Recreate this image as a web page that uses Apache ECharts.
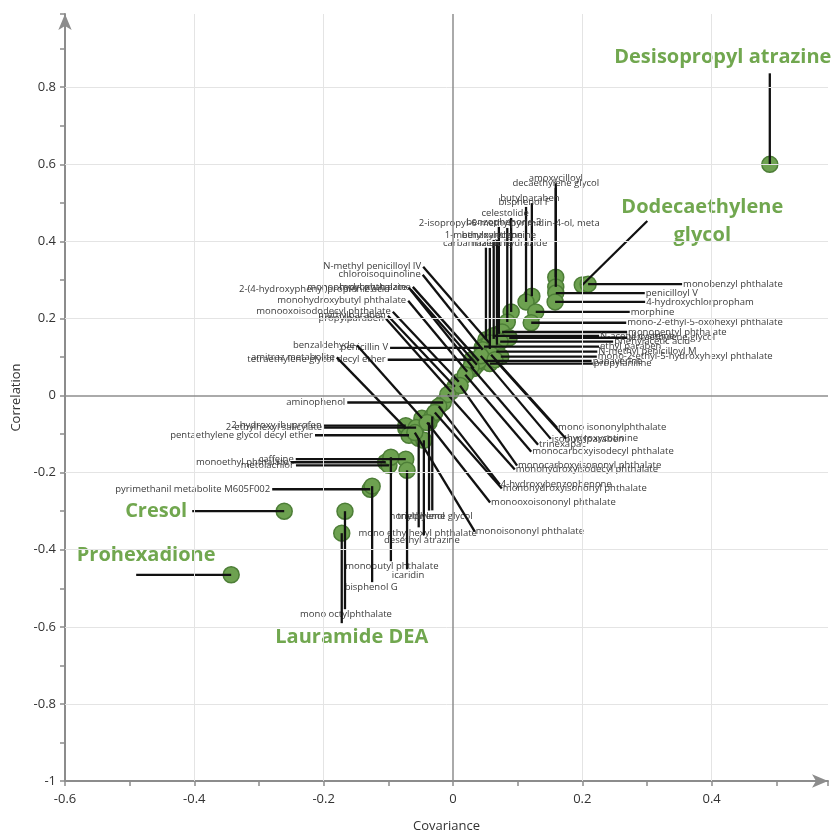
<!DOCTYPE html>
<html><head><meta charset="utf-8">
<script src="https://cdn.jsdelivr.net/npm/echarts@6/dist/echarts.min.js"></script>
<style>html,body{margin:0;padding:0;background:#fff}#c{width:839px;height:838px}</style>
</head><body><div id="c"></div>
<script>
const names = [
 'Desisopropyl atrazine','Dodecaethylene glycol','monobenzyl phthalate','amoxycilloyl','decaethylene glycol',
 'penicilloyl V','4-hydroxychlorpropham','butylparaben','bisphenol F','morphine',
 'mono-2-ethyl-5-oxohexyl phthalate','celestolide','2-isopropyl-6-methylpyrimidin-4-ol, meta','benzophenone-3','1-methylxanthine',
 'benzoylecgonine','carbamazepine','maleic hydrazide','monopentyl phthalate','N-acetyl cysteine',
 'tetraethylene glycol','phenylacetic acid','ethyl paraben','N-methyl penicilloyl M','mono-2-ethyl-5-hydroxyhexyl phthalate',
 'papaverine','propylaniline','penicillin V','tetraethylene glycol decyl ether','amitraz metabolite',
 'benzaldehyde','N-methyl penicilloyl IV','chloroisoquinoline','2-(4-hydroxyphenyl)propionic acid','monopropyl phthalate',
 'hydroxyatrazine','monohydroxybutyl phthalate','monooxoisododecyl phthalate','methylparaben','propylparaben',
 'aminophenol','2-hydroxy ibuprofen','2-ethylhexyl salicylate','pentaethylene glycol decyl ether','caffeine',
 'monoethyl phthalate','metolachlor','pyrimethanil metabolite M605F002','Cresol','Prohexadione',
 'mono ethylhexyl phthalate','desethyl atrazine','nonylphenol','triethylene glycol','monobutyl phthalate',
 'icaridin','bisphenol G','mono octylphthalate','Lauramide DEA','mono isononylphthalate',
 'isobutylparaben','hydroxycotinine','trinexapac','monocarboxyisodecyl phthalate','monocarboxyisononyl phthalate',
 'monohydroxyisodecyl phthalate','4-hydroxybenzophenone','monohydroxyisononyl phthalate','monooxoisononyl phthalate','monoisononyl phthalate'
];
const covariance = [
 0.490,0.200,0.209,0.159,0.159,
 0.159,0.158,0.122,0.113,0.128,
 0.121,0.090,0.084,0.071,0.063,
 0.068,0.051,0.057,0.076,0.062,
 0.087,0.073,0.048,0.067,0.074,
 0.049,0.057,0.045,0.029,-0.073,
 -0.048,0.056,0.046,0.037,0.032,
 0.040,0.022,0.009,0.003,-0.003,
 -0.015,-0.073,-0.057,-0.068,-0.073,
 -0.104,-0.099,-0.128,-0.261,-0.343,
 -0.053,-0.045,-0.032,-0.037,-0.096,
 -0.071,-0.125,-0.167,-0.172,0.059,
 0.043,0.065,0.028,0.019,0.011,
 -0.008,-0.022,-0.028,-0.040,-0.059
];
const correlation = [
 0.600,0.287,0.289,0.307,0.282,
 0.266,0.243,0.258,0.243,0.217,
 0.189,0.217,0.191,0.160,0.147,
 0.132,0.145,0.121,0.165,0.155,
 0.150,0.140,0.127,0.114,0.101,
 0.090,0.083,0.124,0.093,-0.085,
 -0.059,0.137,0.119,0.080,0.070,
 0.090,0.062,0.036,0.023,0.010,
 -0.018,-0.078,-0.083,-0.103,-0.165,
 -0.173,-0.181,-0.243,-0.300,-0.465,
 -0.111,-0.116,-0.054,-0.070,-0.160,
 -0.194,-0.235,-0.300,-0.357,0.106,
 0.103,0.093,0.075,0.054,0.026,
 0.003,-0.028,-0.044,-0.070,-0.096
];
const highlighted = ['Desisopropyl atrazine','Dodecaethylene glycol','Cresol','Prohexadione','Lauramide DEA'];
const wrappedText = {'Dodecaethylene glycol':'Dodecaethylene\nglycol'};
const xTickLabels = [-0.6,-0.4,-0.2,0,0.2,0.4];
const yTickLabels = [-1,-0.8,-0.6,-0.4,-0.2,0,0.2,0.4,0.6,0.8];
const xGridTicks = [-0.4,-0.2,0.2,0.4];
const yGridTicks = [-0.8,-0.6,-0.4,-0.2,0.2,0.4,0.6,0.8];

// label layout (pixels, relative to point): [lineDx, lineDy, side, textDx, textDy]
const labelLayout = [
 [0,-91,'N',-47,-3],[65,-64,'C',55,0],[94,0,'E'],[0,-94,'N'],[0,-99,'N'],
 [89,0,'E'],[90,0,'E'],[0,-93,'N',-2],[0,-95,'N',-2],[94,0,'E'],
 [95,0,'E'],[0,-94,'N',-6],[0,-94,'N',2],[0,-107,'N',5],[0,-99,'N',-10],
 [0,-105,'N',2],[0,-92,'N',-9],[0,-101,'N',20],[125,0,'E'],[106,0,'E'],
 [118,0,'E'],[113,0,'E'],[115,0,'E'],[101,0,'E'],[96,0,'E'],
 [107,0,'E'],[103,0,'E'],[-92,0,'W'],[-84,0,'W'],[-69,-71,'W'],
 [-65,-73,'W'],[-66,-76,'W'],[-60,-75,'W'],[-66,-75,'W',-19],[-65,-81,'W'],
 [-66,-74,'W'],[-59,-71,'W'],[-66,-70,'W'],[-67,-71,'W'],[-65,-73,'W'],
 [-96,0,'W'],[-82,0,'W'],[-92,0,'W'],[-94,0,'W'],[-110,0,'W'],
 [-95,0,'W'],[-93,0,'W'],[-98,0,'W'],[-92,0,'W',-3],[-95,0,'C',10,-19],
 [0,89,'S',-1],[0,95,'S',-2],[0,94,'S',-15],[0,88,'S',6],[0,104,'S',1],
 [0,99,'S',1],[0,96,'S',-1],[0,98,'S',1],[0,90,'S',10],[66,73,'E'],
 [70,83,'E'],[71,79,'E'],[67,78,'E'],[66,77,'E'],[57,80,'E'],
 [67,75,'E'],[61,78,'E'],[67,76,'E'],[63,80,'E'],[60,99,'E']
];

const points = names.map((n,i)=>[covariance[i], correlation[i]]);
const near = (arr,v)=>arr.some(a=>Math.abs(a-v)<1e-6);
const fmt = v => String(Math.round(v*10)/10);

const chart = echarts.init(document.getElementById('c'), null, {renderer:'canvas'});
const axisColor = '#8c8c8c';
const gridLines = [
  ...xGridTicks.map(v=>({xAxis:v, lineStyle:{color:'#e4e4e4', width:1, type:'solid'}})),
  ...yGridTicks.map(v=>({yAxis:v, lineStyle:{color:'#e4e4e4', width:1, type:'solid'}})),
  {xAxis:0, lineStyle:{color:'#8e8e8e', width:1.5, type:'solid'}},
  {yAxis:0, lineStyle:{color:'#8e8e8e', width:1.5, type:'solid'}}
];

chart.setOption({
  animation:false,
  backgroundColor:'#fff',
  grid:{left:65, right:839-828, top:14, bottom:838-784, containLabel:false},
  xAxis:{
    type:'value', min:-0.6, max:0.58, interval:0.1,
    axisLine:{show:true, onZero:false, symbol:['none','arrow'], symbolSize:[10,16], lineStyle:{color:axisColor, width:2}},
    axisTick:{show:true, length:5, lineStyle:{color:axisColor, width:1.5}},
    axisLabel:{margin:12, color:'#333', fontSize:13, fontFamily:'Open Sans', formatter:v=>near(xTickLabels,v)?fmt(v):''},
    splitLine:{show:false},
    name:'Covariance', nameLocation:'middle', nameGap:39,
    nameTextStyle:{color:'#333', fontSize:13, fontFamily:'Open Sans'}
  },
  yAxis:{
    type:'value', min:-1, max:0.99, interval:0.1,
    axisLine:{show:true, onZero:false, symbol:['none','arrow'], symbolSize:[10,16], lineStyle:{color:axisColor, width:2}},
    axisTick:{show:true, length:5, lineStyle:{color:axisColor, width:1.5}},
    axisLabel:{margin:9, color:'#333', fontSize:13, fontFamily:'Open Sans', formatter:v=>near(yTickLabels,v)?fmt(v):''},
    splitLine:{show:false},
    name:'Correlation', nameLocation:'middle', nameGap:37,
    nameTextStyle:{color:'#333', fontSize:13, fontFamily:'Open Sans'}
  },
  series:[
    {type:'scatter', data:[], z:1, silent:true,
     markLine:{silent:true, symbol:'none', label:{show:false}, animation:false, data:gridLines}},
    {type:'scatter', data:points, z:3, symbol:'circle', symbolSize:16, silent:true,
     itemStyle:{color:'#6da150', borderColor:'#4d7e37', borderWidth:1.5, opacity:1}},
    {type:'custom', data:points, z:4, silent:true, clip:false,
     renderItem:(params, api)=>{
       const i = params.dataIndex;
       const p = api.coord([api.value(0), api.value(1)]);
       const L = labelLayout[i];
       const ex = p[0]+L[0], ey = p[1]+L[1];
       const side = L[2], tdx = L[3]||0, tdy = L[4]||0;
       const big = highlighted.indexOf(names[i])>=0;
       let align='left', va='middle', tx=ex, ty=ey;
       if(side==='E'){align='left'; tx=ex+1;}
       else if(side==='W'){align='right'; tx=ex-2;}
       else if(side==='N'){align='center'; va='bottom'; ty=ey+1;}
       else if(side==='S'){align='center'; va='top'; ty=ey;}
       else {align='center'; va='middle';}
       tx+=tdx; ty+=tdy;
       return {type:'group', children:[
         {type:'line', shape:{x1:p[0], y1:p[1], x2:ex, y2:ey}, style:{stroke:'#111', lineWidth:2.3}},
         {type:'text', x:tx, y:ty, style:{
            text: wrappedText[names[i]] || names[i], align:align, verticalAlign:va,
            fill: big ? '#71a74f' : '#3b3b3b',
            fontFamily:'Open Sans', fontSize: big?20:9.5, fontWeight: big?'bold':'normal',
            lineHeight: big?28:11 }}
       ]};
     }}
  ]
});
</script></body></html>
